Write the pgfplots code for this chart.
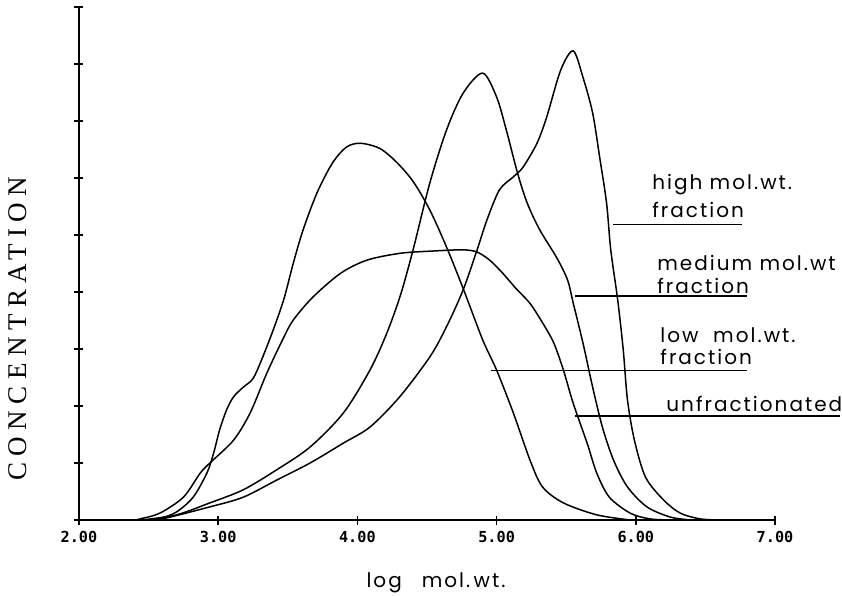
\documentclass[border=0pt]{standalone}
\usepackage{fontspec}
\usepackage{pgfplots}
\pgfplotsset{compat=1.18}
\newfontfamily\labfont[LetterSpace=10]{Poppins}
\newfontfamily\yfont[LetterSpace=24]{Liberation Serif}
\newfontfamily\tickfont{DejaVu Sans Mono}
\pgfplotsset{curve/.style={black, line width=0.75pt, smooth, mark=none}}

\begin{document}
\begin{tikzpicture}
\begin{axis}[
    scale only axis,
    width=348pt, height=256.5pt,
    xmin=2, xmax=7, ymin=0, ymax=9,
    axis x line=bottom, axis y line=left,
    axis line style={-, line width=1pt},
    xtick={2,3,4,5,6,7}, ytick={0,1,...,9},
    yticklabels={},
    xtick align=center, ytick align=center,
    major tick length=4.5pt,
    tick style={line width=0.8pt, black},
    xticklabel={\tickfont\bfseries\pgfmathprintnumber[fixed, fixed zerofill, precision=2, assume math mode=true]{\tick}},
    xticklabel style={font=\fontsize{7.6}{8}\selectfont, inner sep=0pt, yshift=-3pt},
    xlabel={\labfont log\quad mol.\,wt.},
    xlabel style={font=\fontsize{10}{12}\selectfont, at={(rel axis cs:0.513,-0.1325)}, anchor=base},
    ylabel={\yfont CONCENTRATION},
    ylabel style={font=\fontsize{13.5}{16}\selectfont, at={(rel axis cs:-0.0876,0.373)}, anchor=center},
    clip=false,
]
% low mol.wt. fraction
\addplot[curve] coordinates {
(2.45,0) (2.58,0.03) (2.70,0.14) (2.82,0.40) (2.92,0.83) (2.97,1.20) (3.01,1.58)
(3.06,1.93) (3.11,2.16) (3.18,2.33) (3.25,2.48) (3.31,2.80) (3.39,3.30) (3.47,3.86)
(3.54,4.51) (3.61,5.09) (3.71,5.74) (3.82,6.26) (3.92,6.54) (4.02,6.61) (4.16,6.52)
(4.28,6.28) (4.40,5.94) (4.52,5.44) (4.64,4.79) (4.76,4.06) (4.90,3.16) (5.00,2.63)
(5.12,1.88) (5.24,1.05) (5.33,0.58) (5.48,0.30) (5.72,0.09) (5.96,0)
};
% unfractionated
\addplot[curve] coordinates {
(2.40,0) (2.44,0.02) (2.58,0.12) (2.75,0.40) (2.87,0.82) (2.94,1.00) (3.11,1.40)
(3.23,1.88) (3.35,2.58) (3.47,3.20) (3.54,3.51) (3.68,3.91) (3.88,4.33) (4.07,4.56)
(4.31,4.68) (4.55,4.72) (4.76,4.74) (4.86,4.70) (4.95,4.56) (5.04,4.34) (5.14,4.06)
(5.24,3.80) (5.33,3.46) (5.41,3.11) (5.48,2.63) (5.55,2.05) (5.65,1.35) (5.72,0.82)
(5.81,0.40) (5.96,0.12) (6.10,0.02) (6.25,0)
};
% medium mol.wt. fraction
\addplot[curve] coordinates {
(2.45,0) (2.70,0.09) (2.94,0.30) (3.18,0.53) (3.42,0.88) (3.66,1.28) (3.90,1.88)
(4.09,2.63) (4.21,3.27) (4.31,3.95) (4.40,4.74) (4.52,5.91) (4.64,6.84) (4.76,7.49)
(4.90,7.84) (5.00,7.42) (5.07,6.84) (5.15,6.09) (5.22,5.56) (5.31,5.09) (5.43,4.61)
(5.51,4.21) (5.55,3.81) (5.62,3.11) (5.69,2.33) (5.76,1.63) (5.84,1.05) (5.94,0.58)
(6.08,0.23) (6.25,0.05) (6.40,0)
};
% high mol.wt. fraction
\addplot[curve] coordinates {
(2.50,0) (2.60,0.02) (2.94,0.23) (3.18,0.40) (3.42,0.70) (3.66,1.00) (3.90,1.35)
(4.09,1.63) (4.30,2.15) (4.52,2.86) (4.64,3.39) (4.76,4.04) (4.86,4.74) (4.93,5.26)
(5.02,5.79) (5.12,6.02) (5.19,6.19) (5.29,6.61) (5.36,7.07) (5.46,7.89) (5.55,8.23)
(5.62,7.77) (5.69,7.14) (5.74,6.37) (5.79,5.56) (5.82,4.74) (5.87,3.86) (5.91,2.98)
(5.94,2.11) (5.99,1.40) (6.07,0.75) (6.20,0.35) (6.32,0.12) (6.46,0.02) (6.60,0)
};
% labels with leader lines
\begin{scope}[font=\labfont\fontsize{10}{12}\selectfont]
\node[anchor=base west, inner sep=0pt] at (axis cs:6.116,5.79) {high mol.wt.};
\node[anchor=base west, inner sep=0pt] at (axis cs:6.116,5.30) {fraction};
\draw[line width=0.55pt] (axis cs:5.836,5.19) -- (axis cs:6.763,5.19);
\node[anchor=base west, inner sep=0pt] at (axis cs:6.152,4.386) {medium mol.wt};
\node[anchor=base west, inner sep=0pt] at (axis cs:6.152,3.98) {fraction};
\draw[line width=0.55pt] (axis cs:5.563,3.93) -- (axis cs:6.799,3.93);
\node[anchor=base west, inner sep=0pt] at (axis cs:6.174,3.12) {low\ \ mol.wt.};
\node[anchor=base west, inner sep=0pt] at (axis cs:6.174,2.72) {fraction};
\draw[line width=0.55pt] (axis cs:4.96,2.63) -- (axis cs:6.799,2.63);
\node[anchor=base west, inner sep=0pt] at (axis cs:6.217,1.895) {unfractionated};
\draw[line width=0.55pt] (axis cs:5.563,1.825) -- (axis cs:7.467,1.825);
\end{scope}
\coordinate (bl) at (rel axis cs:-0.1135,-0.14815);
\coordinate (tr) at (rel axis cs:1.09626,1.01365);
\end{axis}
\pgfresetboundingbox
\useasboundingbox (bl) rectangle (tr);
\end{tikzpicture}
\end{document}
